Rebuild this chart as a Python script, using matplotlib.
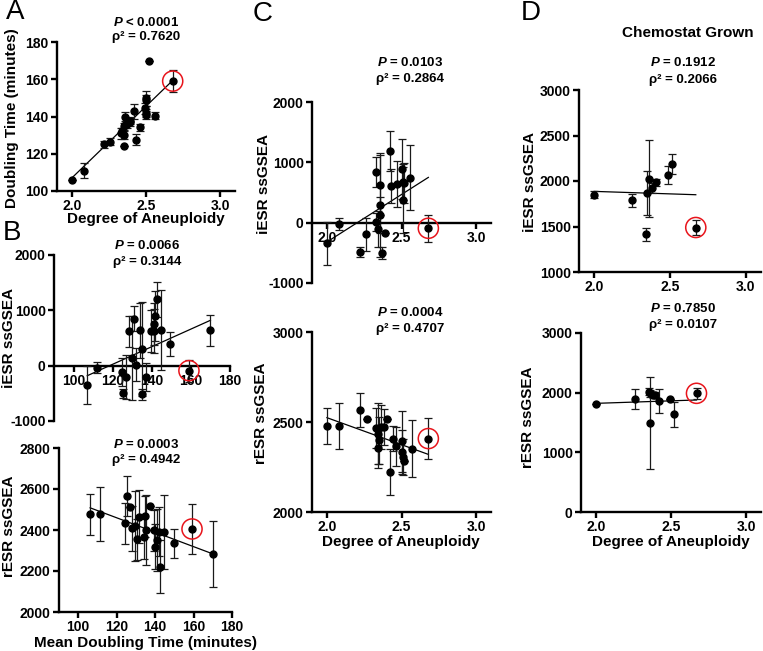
import matplotlib
matplotlib.use('Agg')
import matplotlib.pyplot as plt
import numpy as np

plt.rcParams['font.family'] = ['Liberation Sans', 'DejaVu Sans']
plt.rcParams['font.weight'] = 'bold'
plt.rcParams['mathtext.fontset'] = 'custom'
plt.rcParams['mathtext.it'] = 'Liberation Sans:italic:bold'
plt.rcParams['mathtext.rm'] = 'Liberation Sans:bold'
plt.rcParams['mathtext.bf'] = 'Liberation Sans:bold'

# ---------------- data ----------------
# Panel A: degree of aneuploidy vs doubling time (last point circled)
a_aneuploidy = [2.00, 2.08, 2.22, 2.26, 2.33, 2.35, 2.35, 2.34, 2.35, 2.36, 2.37, 2.39, 2.36,
                2.39, 2.42, 2.43, 2.46, 2.50, 2.50, 2.49, 2.50, 2.50, 2.56, 2.52, 2.68]
a_doubling = [106, 111, 125, 126.5, 131, 124, 130, 132, 134.7, 135.6, 136, 137.8, 139.6,
              137, 142.8, 127.6, 134.2, 149.7, 148.6, 144.5, 142, 140.7, 140.5, 170, 159]
a_doubling_err = [0, 4, 2, 2, 3, 0, 2, 2, 2, 2, 2, 2, 3, 2, 4, 3, 2, 4, 3, 3, 2, 2, 2, 0, 6]
a_fit = [77.0, -47.0]          # slope, intercept
a_stats = ["$P$ < 0.0001", "ρ² = 0.7620"]

# Panel B top: doubling time vs iESR
b_dt_i = [107, 112, 124.7, 125.2, 126.9, 128.1, 129.7, 130.8, 131.7, 134, 135.1, 134.9, 136.8,
          139.7, 141, 141, 141.9, 142.5, 144.7, 149.5, 170, 159]
b_iesr = [-350, -40, -120, -500, -200, 620, 140, 850, 20, 640, 300, -515, -200,
          620, 620, 760, 900, 1200, 650, 390, 640, -90]
b_iesr_err = [350, 100, 250, 80, 400, 280, 760, 230, 300, 500, 850, 100, 250,
              380, 400, 380, 450, 320, 720, 220, 280, 200]
b_i_fit = [15.9, -1883.0]
b_i_stats = ["$P$ = 0.0066", "ρ² = 0.3144"]

# Panel B bottom: doubling time vs rESR
b_dt_r = [106.2, 111.4, 124.1, 125.3, 127, 127.9, 129.6, 130.5, 131.4, 134, 134.5, 135.2, 137.1,
          139.2, 140.1, 141, 141.8, 142.7, 144.4, 149.6, 170.2, 159.2]
b_resr = [2478, 2478, 2433, 2566, 2514, 2408, 2421, 2355, 2465, 2367, 2468, 2400, 2518,
          2400, 2319, 2351, 2392, 2221, 2392, 2335, 2283, 2405]
b_resr_err = [100, 130, 100, 97, 0, 110, 170, 100, 130, 110, 100, 170, 0,
              100, 110, 150, 120, 130, 180, 70, 160, 120]
b_r_fit = [-3.52, 2882.0]
b_r_stats = ["$P$ = 0.0003", "ρ² = 0.4942"]

# Panel C top: aneuploidy vs iESR
c_aneu_i = [2.00, 2.08, 2.22, 2.26, 2.33, 2.33, 2.34, 2.355, 2.355, 2.355, 2.37, 2.39, 2.42,
            2.43, 2.47, 2.50, 2.51, 2.51, 2.52, 2.56, 2.68]
c_iesr = [-341, -27, -485, -192, 833, 17, -104, 623, 293, 127, -507, -176, 1185,
          612, 635, 888, 375, 678, 651, 744, -93]
c_iesr_err = [360, 100, 80, 270, 250, 150, 300, 500, 860, 300, 100, 0, 330,
              280, 380, 500, 550, 300, 330, 540, 220]
c_i_fit = [1574.0, -3468.0]
c_i_stats = ["$P$ = 0.0103", "ρ² = 0.2864"]

# Panel C bottom: aneuploidy vs rESR
c_aneu_r = [2.00, 2.08, 2.22, 2.27, 2.33, 2.34, 2.34, 2.35, 2.36, 2.38, 2.40, 2.42, 2.44,
            2.46, 2.50, 2.50, 2.51, 2.52, 2.57, 2.68]
c_resr = [2478, 2478, 2565, 2515, 2467, 2356, 2435, 2398, 2472, 2472, 2519, 2222, 2408,
          2365, 2393, 2333, 2306, 2282, 2352, 2408]
c_resr_err = [100, 130, 95, 0, 110, 110, 170, 130, 120, 100, 0, 130, 70,
              110, 170, 120, 100, 0, 160, 115]
c_r_fit = [-300.0, 3124.0]
c_r_stats = ["$P$ = 0.0004", "ρ² = 0.4707"]

# Panel D top: chemostat grown, aneuploidy vs iESR
d_aneu_i = [2.00, 2.25, 2.34, 2.35, 2.36, 2.38, 2.41, 2.49, 2.51, 2.67]
d_iesr = [1849, 1787, 1416, 1868, 2026, 1923, 1985, 2070, 2191, 1489]
d_iesr_err = [40, 70, 70, 240, 420, 60, 40, 100, 110, 80]
d_i_fit = [-55.0, 1996.0]
d_i_stats = ["$P$ = 0.1912", "ρ² = 0.2066"]

# Panel D bottom: chemostat grown, aneuploidy vs rESR
d_aneu_r = [2.00, 2.26, 2.35, 2.36, 2.36, 2.38, 2.39, 2.42, 2.49, 2.52, 2.67]
d_resr = [1809, 1888, 2016, 1989, 1485, 1960, 1960, 1865, 1888, 1636, 1989]
d_resr_err = [0, 170, 60, 60, 770, 50, 50, 200, 0, 210, 90]
d_r_fit = [84.0, 1653.0]
d_r_stats = ["$P$ = 0.7850", "ρ² = 0.0107"]

aneu_ticks = [2.0, 2.5, 3.0]
dt_ticks = [100, 120, 140, 160, 180]

# ---------------- figure ----------------
W, H = 763, 651
fig = plt.figure(figsize=(W / 100, H / 100), dpi=100)

def add_ax(L, R, T, B):
    return fig.add_axes([L / W, 1 - B / H, (R - L) / W, (B - T) / H])

def ftxt(x, y, s, **kw):
    kw.setdefault('ha', 'center')
    kw.setdefault('va', 'center')
    fig.text(x / W, 1 - y / H, s, **kw)

def panel(ax, x, y, err, fit, xlim, ylim, xticks, yticks, xfmt, zero_axis=False):
    ax.set_xlim(xlim)
    ax.set_ylim(ylim)
    for s in ['top', 'right']:
        ax.spines[s].set_visible(False)
    for s in ['left', 'bottom']:
        ax.spines[s].set_linewidth(1.7)
    if zero_axis:
        ax.spines['bottom'].set_position(('data', 0))
    ax.set_xticks(xticks)
    ax.set_yticks(yticks)
    ax.set_xticklabels([xfmt.format(v) for v in xticks])
    ax.set_yticklabels([str(int(v)) for v in yticks])
    ax.tick_params(width=1.7, length=4, labelsize=10, pad=2)
    xs = np.array([min(x), max(x)])
    ax.plot(xs, fit[0] * xs + fit[1], color='black', lw=0.9, zorder=2)
    ax.errorbar(x, y, yerr=err, fmt='o', color='black', ms=5, ecolor='#1a1a1a',
                elinewidth=0.9, capsize=3, capthick=0.9, zorder=3)
    ax.scatter([x[-1]], [y[-1]], s=210, facecolors='none', edgecolors='#e8141b',
               linewidths=1.1, zorder=4, clip_on=False)

# Panel A
axA = add_ax(57, 235, 42, 191)
panel(axA, a_aneuploidy, a_doubling, a_doubling_err, a_fit, (1.9, 3.1), (100, 180),
      aneu_ticks, [100, 120, 140, 160, 180], "{:.1f}")
# Panel B
axB1 = add_ax(54, 230, 255, 421)
panel(axB1, b_dt_i, b_iesr, b_iesr_err, b_i_fit, (90, 180), (-1000, 2000),
      dt_ticks, [-1000, 0, 1000, 2000], "{:d}", zero_axis=True)
axB2 = add_ax(59, 232, 448, 612)
panel(axB2, b_dt_r, b_resr, b_resr_err, b_r_fit, (90, 180), (2000, 2800),
      dt_ticks, [2000, 2200, 2400, 2600, 2800], "{:d}")
# Panel C
axC1 = add_ax(312, 491, 102, 283)
panel(axC1, c_aneu_i, c_iesr, c_iesr_err, c_i_fit, (1.9, 3.1), (-1000, 2000),
      aneu_ticks, [-1000, 0, 1000, 2000], "{:.1f}", zero_axis=True)
axC2 = add_ax(312, 491, 332, 512)
panel(axC2, c_aneu_r, c_resr, c_resr_err, c_r_fit, (1.9, 3.1), (2000, 3000),
      aneu_ticks, [2000, 2500, 3000], "{:.1f}")
# Panel D
axD1 = add_ax(579, 761, 90, 272)
panel(axD1, d_aneu_i, d_iesr, d_iesr_err, d_i_fit, (1.9, 3.1), (1000, 3000),
      aneu_ticks, [1000, 1500, 2000, 2500, 3000], "{:.1f}")
axD2 = add_ax(581, 761, 333, 512)
panel(axD2, d_aneu_r, d_resr, d_resr_err, d_r_fit, (1.9, 3.1), (0, 3000),
      aneu_ticks, [0, 1000, 2000, 3000], "{:.1f}")

# panel letters
for (x, y, s) in [(15, 12, 'A'), (12, 233, 'B'), (263, 14, 'C'), (531, 13, 'D')]:
    ftxt(x, y, s, fontsize=20, fontweight='normal')

# axis labels
lab = dict(fontsize=11, fontweight='bold')
ftxt(12, 118, "Doubling Time (minutes)", rotation=90, **lab)
ftxt(146, 219, "Degree of Aneuploidy", **lab)
ftxt(9, 338, "iESR ssGSEA", rotation=90, **lab)
ftxt(9, 526, "rESR ssGSEA", rotation=90, **lab)
ftxt(145, 643, "Mean Doubling Time (minutes)", **lab)
ftxt(264, 184, "iESR ssGSEA", rotation=90, **lab)
ftxt(261, 413, "rESR ssGSEA", rotation=90, **lab)
ftxt(401, 542, "Degree of Aneuploidy", **lab)
ftxt(530, 182, "iESR ssGSEA", rotation=90, **lab)
ftxt(528, 417, "rESR ssGSEA", rotation=90, **lab)
ftxt(671, 542, "Degree of Aneuploidy", **lab)
ftxt(688, 33, "Chemostat Grown", **lab)

# statistics
st = dict(fontsize=9.5, fontweight='bold')
for (x, y1, y2, stats) in [(146, 22, 37, a_stats), (147, 246, 262, b_i_stats),
                           (146, 445, 460, b_r_stats), (410, 63, 79, c_i_stats),
                           (410, 313, 329, c_r_stats), (683, 62, 80, d_i_stats),
                           (683, 308, 325, d_r_stats)]:
    ftxt(x, y1, stats[0], **st)
    ftxt(x, y2, stats[1], **st)

fig.savefig('out.png', dpi=100)
